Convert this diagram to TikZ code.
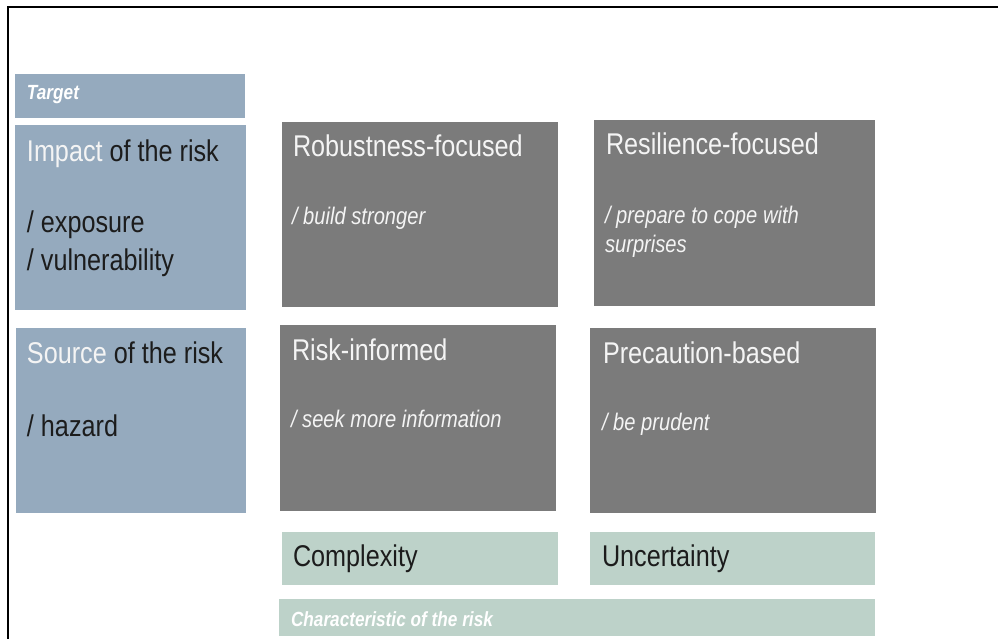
\documentclass[tikz,border=0pt]{standalone}
\usepackage{fontspec}
\setmainfont{Liberation Sans}
\newfontfamily\dfont[FakeStretch=0.84]{Liberation Sans}
\definecolor{targetblue}{HTML}{95AABE}
\definecolor{measuregray}{HTML}{7B7B7B}
\definecolor{charactergreen}{HTML}{BDD2C9}
\definecolor{softwhite}{HTML}{F4F4F4}
\definecolor{inktext}{HTML}{1C1C1C}
\begin{document}
\begin{tikzpicture}[x=1pt,y=-1pt,
  panel/.style={anchor=north west, inner sep=0pt, outer sep=0pt, draw=none},
  bluebox/.style={panel, fill=targetblue},
  graybox/.style={panel, fill=measuregray},
  greenbox/.style={panel, fill=charactergreen},
  txt/.style={anchor=base west, inner sep=0pt, outer sep=0pt},
  bigtxt/.style={txt, text=inktext, font=\dfont\fontsize{30}{36}\selectfont},
  bigwhite/.style={txt, text=softwhite, font=\dfont\fontsize{30}{36}\selectfont},
  smallital/.style={txt, text=softwhite, font=\dfont\itshape\fontsize{24}{29}\selectfont},
  tag/.style={txt, text=white, font=\dfont\bfseries\itshape\fontsize{20.5}{24}\selectfont},
]
\useasboundingbox (0,0) rectangle (998,639);
\fill[white] (0,0) rectangle (998,639);

% frame on the left and top edges
\draw[line width=2pt, black] (7.5,639) -- (7.5,7.5) -- (998,7.5);

% left column: target of the risk
\node[bluebox, minimum width=230pt, minimum height=44pt] (target) at (15,74) {};
\node[bluebox, minimum width=231pt, minimum height=185pt] (impact) at (15,125) {};
\node[bluebox, minimum width=230pt, minimum height=185pt] (source) at (16,328) {};

\node[tag] (targetlbl) at (27,100) {Target};
\node[bigtxt] (impactlbl) at (27,162) {\textcolor{softwhite}{Impact} of the risk};
\node[bigtxt] (exposure) at (27,233) {/ exposure};
\node[bigtxt] (vulner) at (27,270) {/ vulnerability};
\node[bigtxt] (sourcelbl) at (27,363) {\textcolor{softwhite}{Source} of the risk};
\node[bigtxt] (hazard) at (27,436) {/ hazard};

% strategy boxes
\node[graybox, minimum width=276pt, minimum height=185pt] (robust) at (282,122) {};
\node[graybox, minimum width=281pt, minimum height=186pt] (resil) at (594,120) {};
\node[graybox, minimum width=276pt, minimum height=186pt] (riskinf) at (280,325) {};
\node[graybox, minimum width=286pt, minimum height=185pt] (precau) at (590,328) {};

\node[bigwhite] (robustlbl) at (293,157) {Robustness-focused};
\node[smallital] (robustsub) at (292,225) {/ build stronger};
\node[bigwhite] (resillbl) at (606,155) {Resilience-focused};
\node[smallital] (resilsuba) at (605,223) {/ prepare to cope with};
\node[smallital] (resilsubb) at (605,252) {surprises};
\node[bigwhite] (riskinflbl) at (292,360) {Risk-informed};
\node[smallital] (riskinfsub) at (291,427) {/ seek more information};
\node[bigwhite] (precaulbl) at (603,363) {Precaution-based};
\node[smallital] (precausub) at (602,430) {/ be prudent};

% bottom row: characteristic of the risk
\node[greenbox, minimum width=276pt, minimum height=53pt] (complex) at (282,532) {};
\node[greenbox, minimum width=285pt, minimum height=53pt] (uncert) at (590,532) {};
\node[greenbox, minimum width=596pt, minimum height=37pt] (charact) at (279,599) {};

\node[bigtxt] (complexlbl) at (293,566) {Complexity};
\node[bigtxt] (uncertlbl) at (602,566) {Uncertainty};
\node[tag] (charactlbl) at (291,626) {Characteristic of the risk};
\end{tikzpicture}
\end{document}
